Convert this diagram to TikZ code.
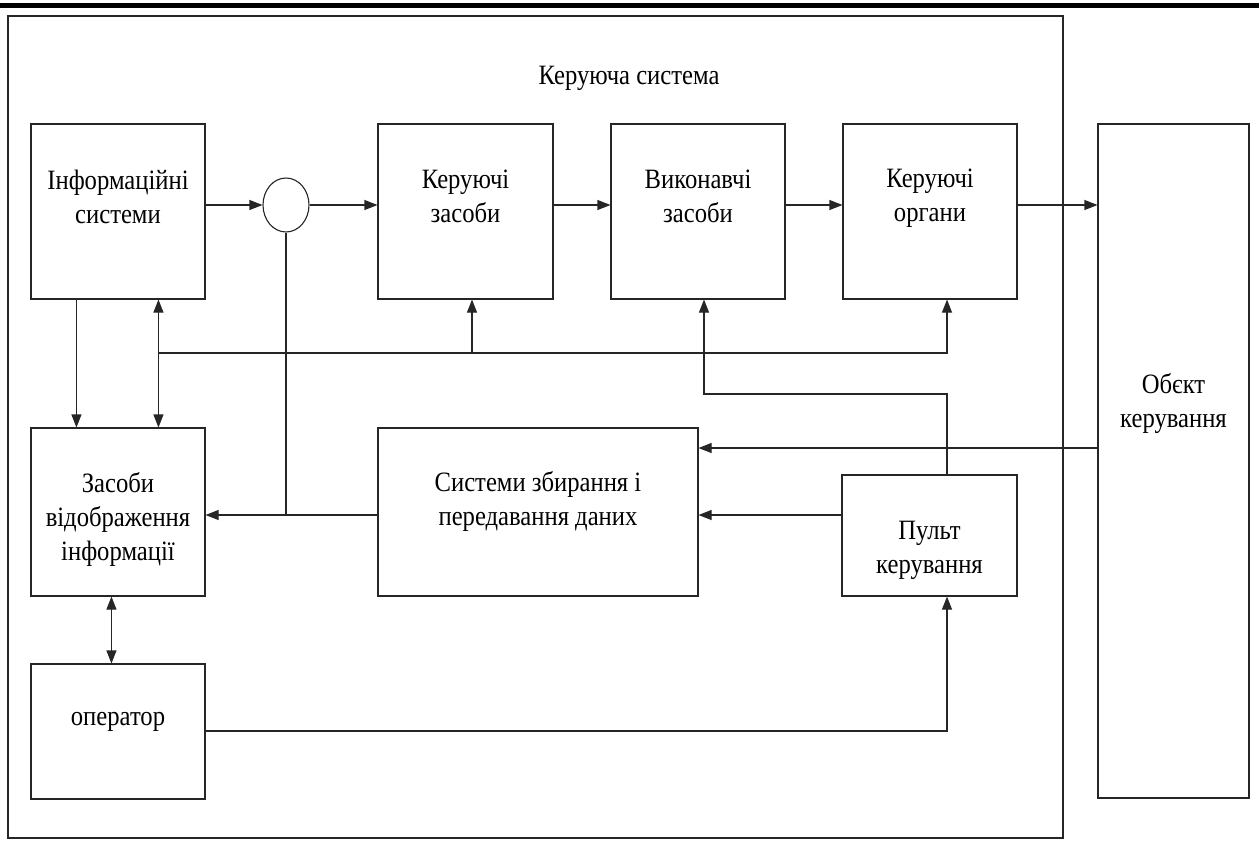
\documentclass[tikz,border=0pt]{standalone}
\usepackage{fontspec}
\setmainfont{Liberation Serif}[FakeStretch=0.88]
\usetikzlibrary{arrows.meta,shapes.geometric}
\begin{document}
\begin{tikzpicture}[x=1pt,y=-1pt,
  box/.style={draw=black!85, line width=1.1pt, inner sep=0pt, rectangle},
  lbl/.style={align=center, font=\fontsize{28}{34}\selectfont, inner sep=0pt},
  wire/.style={draw=black!85, line width=1.1pt},
  arr/.style={wire, -{Triangle[length=13pt,width=10pt]}},
  darr/.style={wire, {Triangle[length=13pt,width=10pt]}-{Triangle[length=13pt,width=10pt]}},
]
\useasboundingbox (0,0) rectangle (1259,841);
% heavy rule along the top edge
\fill[black] (0,3) rectangle (1259,8);

% outer frame of the control system
\node[box, minimum width=1055pt, minimum height=822pt] (frame) at (535.5,427) {};

% blocks
\node[box, minimum width=174pt, minimum height=175pt] (info) at (118,211.5) {};
\node[box, minimum width=175pt, minimum height=175pt] (kz)   at (465.5,211.5) {};
\node[box, minimum width=174pt, minimum height=175pt] (vz)   at (698,211.5) {};
\node[box, minimum width=174pt, minimum height=175pt] (org)  at (930,211.5) {};
\node[box, minimum width=151pt, minimum height=674pt] (obj)  at (1173.5,461) {};
\node[box, minimum width=174pt, minimum height=168pt] (zas)  at (118,512) {};
\node[box, minimum width=320pt, minimum height=168pt] (sys)  at (538,512) {};
\node[box, minimum width=175pt, minimum height=121pt] (pult) at (929.5,535.5) {};
\node[box, minimum width=174pt, minimum height=135pt] (oper) at (118,731.5) {};
\node[draw=black!85, line width=1.1pt, ellipse, inner sep=0pt,
      minimum width=46pt, minimum height=54pt] (sum) at (286,205) {};

% labels
\node[lbl] (tTitle) at (629,78) {Керуюча система};
\node[lbl] (tInfo) at (118,197) {Інформаційні\\системи};
\node[lbl] (tKz)   at (465.5,196) {Керуючі\\засоби};
\node[lbl] (tVz)   at (698,196) {Виконавчі\\засоби};
\node[lbl] (tOrg)  at (930,198) {Керуючі\\органи};
\node[lbl] (tObj)  at (1173.5,403) {Обєкт\\керування};
\node[lbl] (tZas)  at (118,519) {Засоби\\відображення\\інформації};
\node[lbl] (tSys)  at (538,501) {Системи збирання і\\передавання даних};
\node[lbl] (tPult) at (929.5,550) {Пульт\\керування};
\node[lbl] (tOper) at (118,722) {оператор};

% junction points
\coordinate (busL) at (159,353);
\coordinate (busK) at (472,353);
\coordinate (busR) at (947,353);
\coordinate (j1) at (286,515);
\coordinate (p1) at (947,394);
\coordinate (p2) at (704,394);
\coordinate (o1) at (1098,448);
\coordinate (q1) at (947,731);

% main forward chain
\draw[arr] (info.east |- sum) -- (sum.west);
\draw[arr] (sum.east) -- (kz.west |- sum);
\draw[arr] (kz.east |- sum) -- (vz.west |- sum);
\draw[arr] (vz.east |- sum) -- (org.west |- sum);
\draw[arr] (org.east |- sum) -- (obj.west |- sum);

% information systems to display means
\draw[arr] ([xshift=46pt]info.south west) -- ([xshift=46pt]zas.north west);
\draw[darr] ([xshift=128pt]info.south west) -- ([xshift=128pt]zas.north west);

% distribution bus
\draw[arr] (busL) -- (busR) -- (org.south -| busR);
\draw[arr] (busK) -- (kz.south -| busK);

% summing node feedback and data collection
\draw[wire] (sum.south) -- (j1);
\draw[arr] (sys.west |- j1) -- (zas.east |- j1);
\draw[arr] (obj.west |- o1) -- (sys.east |- o1);
\draw[arr] (pult.west |- j1) -- (sys.east |- j1);

% control panel to executive means
\draw[arr] (pult.north -| p1) -- (p1) -- (p2) -- (vz.south -| p2);

% operator loop
\draw[darr] ([xshift=81pt]zas.south west) -- ([xshift=81pt]oper.north west);
\draw[arr] (oper.east |- q1) -- (q1) -- (pult.south -| q1);
\end{tikzpicture}
\end{document}
